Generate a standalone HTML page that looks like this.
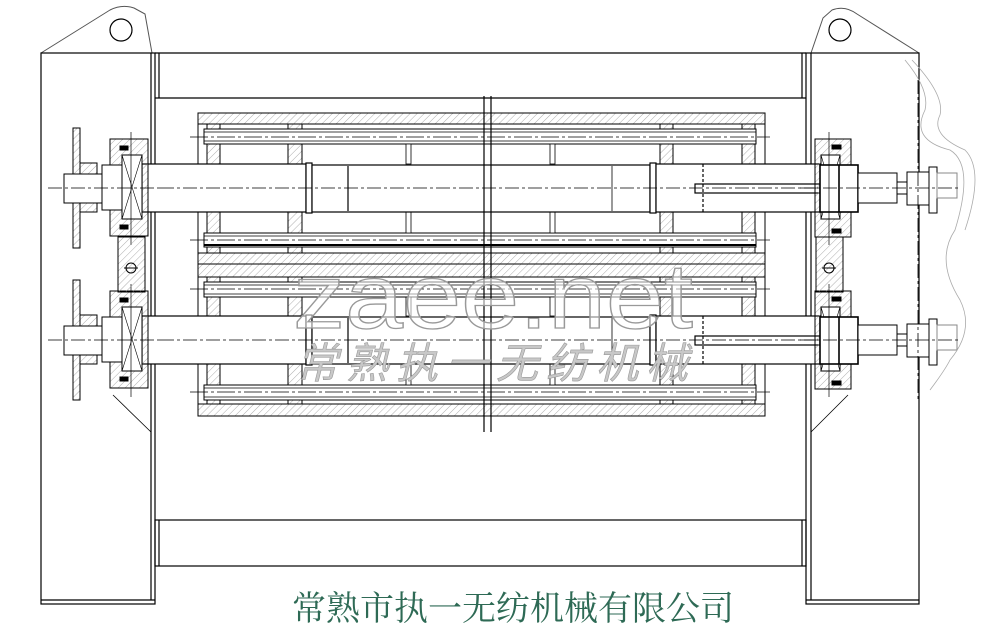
<!DOCTYPE html>
<html><head><meta charset="utf-8"><style>
html,body{margin:0;padding:0;background:#fff;width:982px;height:638px;overflow:hidden}
svg{display:block}
</style></head><body>
<svg width="982" height="638" viewBox="0 0 982 638" xmlns="http://www.w3.org/2000/svg">
<defs>
<pattern id="h" width="5" height="5" patternUnits="userSpaceOnUse" patternTransform="rotate(45)">
<line x1="0" y1="0" x2="0" y2="5" stroke="#999" stroke-width="0.8"/>
</pattern>
</defs>
<g fill="none" stroke="#000" stroke-width="1.2">
<path d="M41 53 L110 10 Q122 4 134 8 L145 14 L152 53" stroke="#555" stroke-width="1"/>
<circle cx="121" cy="30" r="11"/>
<path d="M919 53 L857 14 Q845 5 832 10 L823 18 L811 53" stroke="#555" stroke-width="1"/>
<circle cx="840" cy="30" r="11"/>
<rect x="41" y="53" width="114" height="551"/>
<line x1="41" y1="600" x2="155" y2="600"/>
<line x1="151" y1="53" x2="151" y2="600"/>
<rect x="806" y="53" width="113" height="551"/>
<line x1="806" y1="600" x2="919" y2="600"/>
<line x1="811" y1="53" x2="811" y2="600"/>
<line x1="155" y1="53" x2="806" y2="53"/>
<line x1="155" y1="98" x2="806" y2="98"/>
<line x1="159" y1="53" x2="159" y2="98"/>
<line x1="802" y1="53" x2="802" y2="98"/>
<rect x="155" y="520" width="651" height="46"/>
<line x1="159" y1="520" x2="159" y2="566"/>
<line x1="802" y1="520" x2="802" y2="566"/>
<line x1="113" y1="395" x2="151" y2="432" stroke-width="0.8"/>
<line x1="811" y1="432" x2="848" y2="395" stroke-width="0.8"/>
</g>

<g stroke="#000" stroke-width="1">
<rect x="198" y="113" width="567" height="11" fill="url(#h)"/>
<rect x="198" y="253" width="567" height="11" fill="url(#h)"/>
<rect x="198" y="264" width="567" height="13" fill="url(#h)"/>
<rect x="198" y="404" width="567" height="12" fill="url(#h)"/>
<line x1="198" y1="113" x2="198" y2="416" fill="none"/>
<line x1="765" y1="113" x2="765" y2="416" fill="none"/>
<g fill="url(#h)">
<rect x="207" y="124" width="13" height="129"/>
<rect x="288" y="124" width="14" height="129"/>
<rect x="660" y="124" width="13" height="129"/>
<rect x="742" y="124" width="13" height="129"/>
<rect x="207" y="277" width="13" height="127"/>
<rect x="288" y="277" width="14" height="127"/>
<rect x="660" y="277" width="13" height="127"/>
<rect x="742" y="277" width="13" height="127"/>
</g>
<g fill="#fff">
<rect x="204" y="129" width="552" height="15"/>
<rect x="204" y="233" width="552" height="14"/>
<rect x="204" y="282" width="552" height="15"/>
<rect x="204" y="385" width="552" height="15"/>
</g>
<g stroke-width="0.8">
<line x1="204" y1="132" x2="756" y2="132"/><line x1="204" y1="141" x2="756" y2="141"/>
<line x1="204" y1="236" x2="756" y2="236"/><line x1="204" y1="245" x2="756" y2="245" stroke-width="2"/>
<line x1="204" y1="285" x2="756" y2="285"/><line x1="204" y1="294" x2="756" y2="294"/>
<line x1="204" y1="388" x2="756" y2="388"/><line x1="204" y1="397" x2="756" y2="397"/>
</g>
<g stroke-dasharray="18 3 3 3" stroke-width="0.7">
<line x1="190" y1="137" x2="770" y2="137"/><line x1="190" y1="240" x2="770" y2="240"/>
<line x1="190" y1="289" x2="770" y2="289"/><line x1="190" y1="392" x2="770" y2="392"/>
</g>
<g fill="#fff" stroke-width="0.8">
<rect x="406" y="144" width="5" height="20"/><rect x="406" y="212" width="5" height="21"/>
<rect x="550" y="144" width="5" height="20"/><rect x="550" y="212" width="5" height="21"/>
<rect x="406" y="297" width="5" height="19"/><rect x="406" y="364" width="5" height="21"/>
<rect x="550" y="297" width="5" height="19"/><rect x="550" y="364" width="5" height="21"/>
</g>
</g>

<g fill="#fff" stroke="#000" stroke-width="1.2">
<rect x="142" y="164" width="164" height="48"/>
<rect x="306" y="163" width="6" height="50"/>
<rect x="312" y="165" width="338" height="47"/>
<line x1="348" y1="166" x2="348" y2="211"/>
<line x1="612" y1="166" x2="612" y2="211" stroke-width="0.8"/>
<rect x="650" y="163" width="6" height="50"/>
<rect x="656" y="164" width="165" height="48"/>
<rect x="695" y="184" width="125" height="9"/>
<line x1="703" y1="164" x2="703" y2="212" stroke-dasharray="3 2"/>
<rect x="142" y="316" width="164" height="48"/>
<rect x="306" y="315" width="6" height="50"/>
<rect x="312" y="317" width="338" height="47"/>
<line x1="348" y1="318" x2="348" y2="363"/>
<line x1="612" y1="318" x2="612" y2="363" stroke-width="0.8"/>
<rect x="650" y="315" width="6" height="50"/>
<rect x="656" y="316" width="165" height="48"/>
<rect x="695" y="336" width="125" height="9"/>
<line x1="703" y1="316" x2="703" y2="364" stroke-dasharray="3 2"/>
</g>
<g stroke="#000" stroke-width="0.7" stroke-dasharray="14 3 3 3">
<line x1="160" y1="188" x2="820" y2="188"/>
<line x1="160" y1="340" x2="820" y2="340"/>
</g>

<g stroke="#000" stroke-width="1">
<g id="L">
<rect x="110" y="139" width="38" height="97" fill="url(#h)"/>
<rect x="122" y="155" width="20" height="64" fill="#fff"/>
<path d="M122 155 L142 219 M142 155 L122 219" stroke-width="0.6"/>
<rect x="102" y="165" width="20" height="45" fill="#fff"/>
<rect x="73" y="128" width="7" height="120" fill="url(#h)"/>
<rect x="80" y="163" width="17" height="49" fill="url(#h)"/>
<rect x="64" y="174" width="38" height="29" fill="#fff"/>
<rect x="120" y="146" width="8" height="4" fill="#000"/>
<rect x="120" y="225" width="8" height="4" fill="#000"/>
<line x1="48" y1="188" x2="160" y2="188" stroke-dasharray="14 3 3 3" stroke-width="0.7"/>
<line x1="131" y1="132" x2="131" y2="245" stroke-width="0.7"/>
</g>
<use href="#L" y="152"/>
<rect x="118" y="237" width="27" height="55" fill="url(#h)"/>
<circle cx="131" cy="268" r="5" fill="none"/>
<line x1="124" y1="268" x2="138" y2="268"/>
</g>

<g stroke="#000" stroke-width="1">
<g id="R">
<rect x="815" y="139" width="36" height="98" fill="url(#h)"/>
<rect x="821" y="155" width="19" height="64" fill="#fff"/>
<path d="M821 155 L840 219 M840 155 L821 219" stroke-width="0.6"/>
<rect x="820" y="165" width="38" height="47" fill="#fff" stroke-width="1.6"/>
<line x1="839" y1="165" x2="839" y2="212" stroke-width="1.6"/>
<rect x="858" y="173" width="39" height="30" fill="#fff"/>
<rect x="897" y="182" width="10" height="12" fill="#fff"/>
<rect x="907" y="172" width="23" height="33" fill="#fff"/>
<rect x="929" y="167" width="8" height="46" fill="#fff"/>
<rect x="937" y="173" width="20" height="25" fill="#fff" stroke="#888"/>
<rect x="832" y="145" width="9" height="4" fill="#000"/>
<rect x="832" y="229" width="9" height="4" fill="#000"/>
<line x1="800" y1="188" x2="960" y2="188" stroke-dasharray="14 3 3 3" stroke-width="0.7"/>
<line x1="829" y1="132" x2="829" y2="245" stroke-width="0.7"/>
</g>
<use href="#R" y="152"/>
<rect x="816" y="237" width="27" height="55" fill="url(#h)"/>
<circle cx="829" cy="268" r="5" fill="none"/>
<line x1="822" y1="268" x2="836" y2="268"/>
</g>
<g fill="none" stroke="#aaa" stroke-width="0.8">
<path d="M905 60 Q930 90 925 110 Q910 140 950 150 Q975 165 955 230 Q935 260 960 300 Q975 330 950 360 Q945 370 930 390"/>
<path d="M912 60 Q945 95 940 115 Q930 135 965 150 Q985 170 965 230"/>
</g>
<line x1="918" y1="80" x2="918" y2="400" stroke="#000" stroke-width="0.8" stroke-dasharray="14 3 3 3"/>

<line x1="484" y1="96" x2="484" y2="432" stroke="#000" stroke-width="1.2"/>
<line x1="491" y1="96" x2="491" y2="432" stroke="#000" stroke-width="1.2"/>

<text x="293" y="328" font-family="Liberation Sans, sans-serif" font-size="92" fill="rgba(255,255,255,0.55)" stroke="#999" stroke-width="1.3" textLength="400" lengthAdjust="spacingAndGlyphs">zaee.net</text>
<text x="296" y="378" font-family="Liberation Sans, 'Noto Sans CJK SC', sans-serif" font-size="42" font-style="italic" fill="#c8c8c8" stroke="#999" stroke-width="0.6" letter-spacing="8">常熟执一无纺机械</text>

<text x="292" y="620" font-family="'Liberation Serif', 'Noto Serif CJK SC', serif" font-size="34" fill="#2e6a55">常熟市执一无纺机械有限公司</text>
</svg>
</body></html>
